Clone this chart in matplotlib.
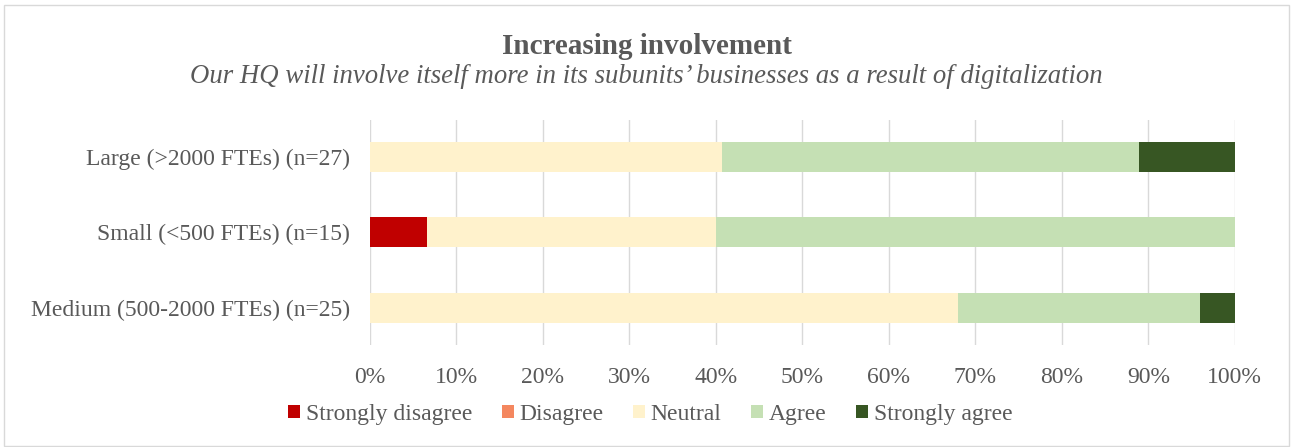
import matplotlib.pyplot as plt
import numpy as np
from matplotlib.patches import Rectangle
from matplotlib.ticker import PercentFormatter

# survey groups, bottom to top
groups = ["Medium (500-2000 FTEs) (n=25)", "Small (<500 FTEs) (n=15)", "Large (>2000 FTEs) (n=27)"]
answers = ["Strongly disagree", "Disagree", "Neutral", "Agree", "Strongly agree"]
strongly_disagree = [0.0, 1 / 15, 0.0]
disagree = [0.0, 0.0, 0.0]
neutral = [17 / 25, 5 / 15, 11 / 27]
agree = [7 / 25, 9 / 15, 13 / 27]
strongly_agree = [1 / 25, 0.0, 3 / 27]
colors = ["#C00000", "#F4875F", "#FFF2CC", "#C5E0B4", "#375623"]

plt.rcParams['font.family'] = ['Liberation Serif', 'DejaVu Serif']
txt = "#595959"

fig = plt.figure(figsize=(12.93, 4.47), dpi=100)
fig.patches.append(Rectangle((0.003, 0.003), 0.994, 0.985, transform=fig.transFigure,
                             fill=False, edgecolor="#D9D9D9", linewidth=1))
ax = fig.add_axes([0.286, 0.228, 0.669, 0.504])

y = np.arange(len(groups))
left = np.zeros(len(groups))
for name, vals, c in zip(answers, [strongly_disagree, disagree, neutral, agree, strongly_agree], colors):
    ax.barh(y, vals, left=left, height=0.4, color=c, label=name, zorder=3)
    left += np.array(vals)

ax.set_xlim(0, 1)
ax.set_ylim(-0.5, 2.5)
ax.set_xticks(np.arange(0, 1.01, 0.1))
ax.xaxis.set_major_formatter(PercentFormatter(1, decimals=0))
ax.set_yticks(y)
ax.set_yticklabels(groups)
ax.tick_params(axis='both', length=0, labelsize=17, colors=txt)
ax.tick_params(axis='x', pad=16)
ax.tick_params(axis='y', pad=14)
ax.grid(axis='x', color="#D9D9D9", linewidth=1, zorder=0)
for s in ax.spines.values():
    s.set_visible(False)

fig.text(0.5, 0.897, "Increasing involvement", ha='center', va='center', fontsize=21,
         fontweight='bold', color=txt)
fig.text(0.5, 0.828, "Our HQ will involve itself more in its subunits\u2019 businesses as a result of digitalization",
         ha='center', va='center', fontsize=19.3, style='italic', color=txt)

fig.legend(loc='center', bbox_to_anchor=(0.503, 0.073), ncol=5, frameon=False, fontsize=17,
           handlelength=0.5, handleheight=0.5, handletextpad=0.25, columnspacing=1.25,
           labelcolor=txt)

fig.savefig("out.png")
